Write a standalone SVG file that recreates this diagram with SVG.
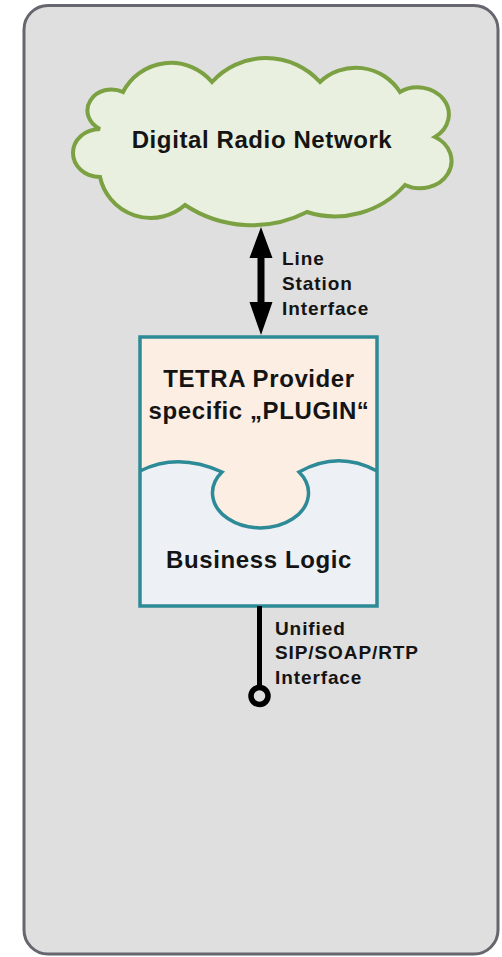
<svg xmlns="http://www.w3.org/2000/svg" width="502" height="957" viewBox="0 0 502 957">
<style>
  .t { font-family: "Liberation Sans", Arial, sans-serif; font-weight: bold; fill: #141414; }
  .big { font-size: 24px; letter-spacing: 0.6px; text-anchor: middle; }
  .small { font-size: 19px; letter-spacing: 0.9px; }
  .teal { stroke: #2d8a97; stroke-width: 3.5; }
</style>
<rect width="502" height="957" fill="#ffffff"/>
<g id="frame">
  <rect x="24" y="5.5" width="474" height="948.5" rx="24" ry="24" fill="#dfdfdf" stroke="#66666e" stroke-width="3"/>
</g>
<g id="cloud">
  <path d="M100,129 A24,21 0 1 1 123,92 A53.8,53.8 0 0 1 212,82 A72.8,72.8 0 0 1 320,82 A52.2,52.2 0 0 1 400,92 A30,26 0 1 1 435,137 A30,26 0 1 1 405,185 A93.5,93.5 0 0 1 307,212 A121,121 0 0 1 185,205 A51.9,51.9 0 0 1 100,177 A27,24 0 1 1 100,129 Z" fill="#e9f0df" stroke="#7ba142" stroke-width="4" stroke-linejoin="miter"/>
  <text class="t big" x="262" y="148">Digital Radio Network</text>
</g>
<g id="plugin">
  <rect x="140" y="337" width="237" height="269" fill="#fdeee3"/>
  <text class="t big" x="259" y="387">TETRA Provider</text>
  <text class="t big" x="259" y="419">specific „PLUGIN“</text>
</g>
<g id="business-logic">
  <path d="M140,471 Q178,452 222,472 A48,35 0 1 0 299,472 Q338,450 377,471 L377,606 L140,606 Z" fill="#edf1f6"/>
  <path d="M140,471 Q178,452 222,472 A48,35 0 1 0 299,472 Q338,450 377,471" fill="none" class="teal"/>
  <text class="t big" x="259" y="568">Business Logic</text>
  <rect x="140" y="337" width="237" height="269" fill="none" class="teal"/>
</g>
<g id="connectors">
  <path d="M261,227 L272.5,258 L264.5,258 L264.5,302 L272.5,302 L261,335 L249.5,302 L257.5,302 L257.5,258 L249.5,258 Z" fill="#000000"/>
  <line x1="259.5" y1="606" x2="259.5" y2="688" stroke="#000000" stroke-width="5"/>
  <circle cx="259.5" cy="696" r="8.5" fill="#dfdfdf" stroke="#000000" stroke-width="5.5"/>
</g>
<g id="labels">
  <text class="t small" x="282" y="265">Line</text>
  <text class="t small" x="282" y="290">Station</text>
  <text class="t small" x="282" y="315">Interface</text>
  <text class="t small" x="275" y="635">Unified</text>
  <text class="t small" x="275" y="659">SIP/SOAP/RTP</text>
  <text class="t small" x="275" y="684">Interface</text>
</g>
</svg>
